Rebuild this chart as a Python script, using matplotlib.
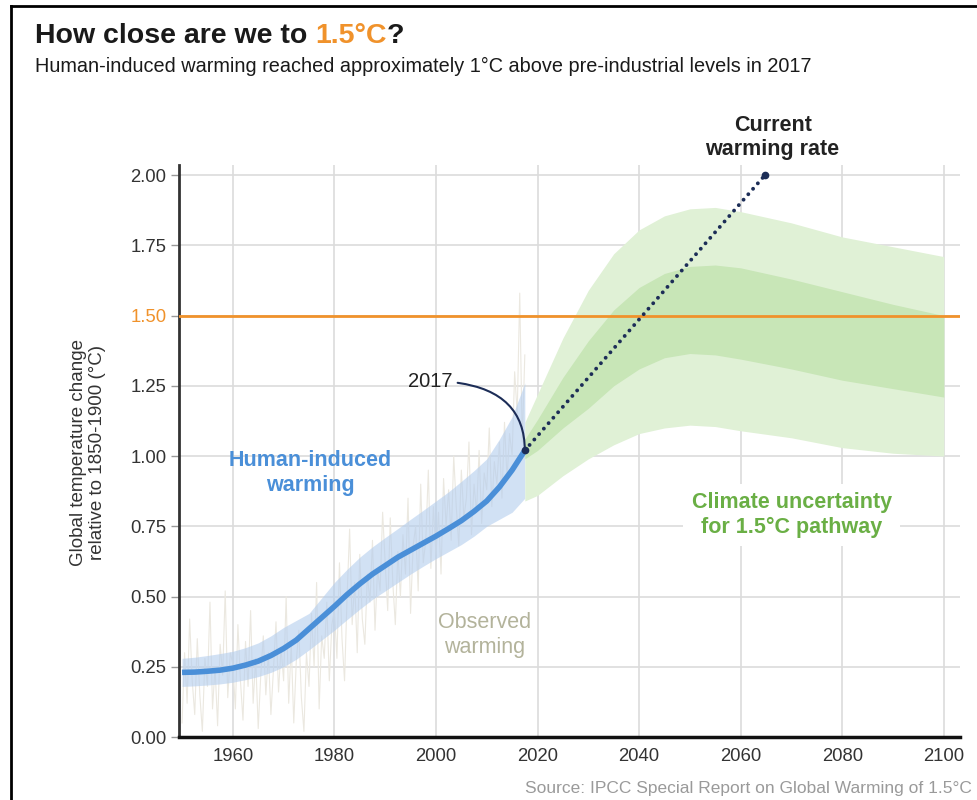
import numpy as np
import matplotlib
matplotlib.use("Agg")
import matplotlib.pyplot as plt
from matplotlib.lines import Line2D

plt.rcParams['font.family'] = ['Liberation Sans', 'DejaVu Sans']

# ---------------- data ----------------
human_years = [1950, 1952.5, 1955, 1957.5, 1960, 1962.5, 1965, 1967.5, 1970, 1972.5, 1975, 1977.5, 1980,
               1982.5, 1985, 1987.5, 1990, 1992.5, 1995, 1997.5, 2000, 2002.5, 2005, 2007.5, 2010,
               2012.5, 2015, 2017.5]
human_mid   = [0.23, 0.231, 0.234, 0.238, 0.245, 0.256, 0.27, 0.29, 0.315, 0.345, 0.385, 0.425, 0.465,
               0.507, 0.545, 0.58, 0.61, 0.64, 0.665, 0.69, 0.715, 0.742, 0.77, 0.803, 0.84,
               0.89, 0.95, 1.02]
human_low   = [0.18, 0.182, 0.185, 0.189, 0.195, 0.204, 0.215, 0.23, 0.25, 0.277, 0.31, 0.345, 0.38,
               0.418, 0.455, 0.49, 0.52, 0.55, 0.58, 0.608, 0.635, 0.66, 0.685, 0.715, 0.75,
               0.775, 0.80, 0.85]
human_high  = [0.28, 0.284, 0.29, 0.297, 0.305, 0.318, 0.335, 0.36, 0.39, 0.415, 0.44, 0.495, 0.55,
               0.597, 0.64, 0.677, 0.71, 0.742, 0.775, 0.807, 0.84, 0.873, 0.91, 0.948, 0.99,
               1.06, 1.14, 1.26]

obs_start = 1950
obs_values = [
    0.05, 0.30, 0.12, 0.42, 0.20, 0.08, 0.35, 0.15, 0.02, 0.28, 0.18, 0.48, 0.10, 0.25, 0.04, 0.33, 0.22, 0.52, 0.14, 0.30,
    0.26, 0.10, 0.40, 0.20, 0.06, 0.34, 0.18, 0.45, 0.12, 0.28, 0.03, 0.22, 0.36, 0.15, 0.30, 0.08, 0.24, 0.41, 0.16, 0.32,
    0.20, 0.50, 0.12, 0.33, 0.05, 0.27, 0.38, 0.14, 0.02, 0.30, 0.18, 0.44, 0.25, 0.55, 0.10, 0.36, 0.28, 0.48, 0.20, 0.40,
    0.45, 0.28, 0.62, 0.35, 0.20, 0.50, 0.74, 0.40, 0.55, 0.30, 0.65, 0.42, 0.33, 0.58, 0.48, 0.70, 0.38, 0.60, 0.52, 0.80,
    0.62, 0.45, 0.78, 0.55, 0.40, 0.66, 0.50, 0.72, 0.58, 0.85, 0.44, 0.68, 0.75, 0.52, 0.90, 0.62, 0.70, 0.95, 0.60, 0.82,
    0.65, 0.80, 0.58, 0.92, 0.75, 0.88, 0.70, 1.00, 0.82, 0.68, 0.95, 0.78, 0.85, 1.05, 0.72, 0.90, 0.80, 1.02, 0.76, 0.94,
    0.88, 1.10, 0.82, 0.98, 0.90, 1.05, 0.85, 1.12, 0.92, 1.08, 1.00, 1.30, 1.15, 1.58, 1.05, 1.36,
]
obs_years = obs_start + 0.5 * np.arange(len(obs_values))

path_years  = [2017.5, 2020, 2025, 2030, 2035, 2040, 2045, 2050, 2055, 2060, 2070, 2080, 2090, 2100]
outer_high  = [1.12, 1.22, 1.42, 1.59, 1.72, 1.805, 1.855, 1.88, 1.885, 1.87, 1.83, 1.78, 1.745, 1.71]
inner_high  = [1.06, 1.13, 1.28, 1.41, 1.52, 1.60, 1.65, 1.675, 1.68, 1.67, 1.63, 1.585, 1.54, 1.50]
inner_low   = [0.99, 1.02, 1.10, 1.17, 1.25, 1.31, 1.35, 1.365, 1.36, 1.345, 1.31, 1.27, 1.24, 1.21]
outer_low   = [0.84, 0.86, 0.93, 0.99, 1.04, 1.08, 1.10, 1.11, 1.105, 1.09, 1.065, 1.03, 1.01, 1.00]

rate_years  = [2017.5, 2064.8]
rate_values = [1.02, 2.00]

target = 1.5
x_ticks = [1960, 1980, 2000, 2020, 2040, 2060, 2080, 2100]
y_ticks = [0.0, 0.25, 0.5, 0.75, 1.0, 1.25, 1.5, 1.75, 2.0]

# ---------------- colours ----------------
ORANGE = '#f0922b'
NAVY = '#1c2d57'
BLUE = '#4a8fd8'
GREEN_TXT = '#6aaf45'
OBS_TXT = '#b3b39b'

fig = plt.figure(figsize=(9.78, 8), dpi=100)
ax = fig.add_axes([179/978, 1-737/800, 781/978, (737-165)/800])

ax.set_xlim(1949.4, 2103.2)
ax.set_ylim(0, 2.036)

# grid
for xt in x_ticks:
    ax.axvline(xt, color='#dcdcdc', lw=1.2, zorder=0)
for yt in y_ticks[1:]:
    ax.axhline(yt, color='#dcdcdc', lw=1.2, zorder=0)

# observed
ax.plot(obs_years, obs_values, color='#ebe8e0', lw=0.8, zorder=1)

# human band
ax.fill_between(human_years, human_low, human_high, color='#b3cdee', alpha=0.6, lw=0, zorder=2)

# pathway bands
ax.fill_between(path_years, outer_low, outer_high, color='#e0f1d6', lw=0, zorder=2)
ax.fill_between(path_years, inner_low, inner_high, color='#c8e6b7', lw=0, zorder=2)

ax.plot(human_years, human_mid, color=BLUE, lw=4, solid_capstyle='butt', solid_joinstyle='round', zorder=4)

# 1.5 line
ax.axhline(target, color=ORANGE, lw=2, zorder=3)

# current warming rate dotted line
ax.plot(rate_years, rate_values, color=NAVY, lw=2.8, linestyle=(0, (0.01, 1.85)),
        dash_capstyle='round', zorder=5)
ax.plot(rate_years, rate_values, 'o', color=NAVY, ms=4.5, zorder=6, clip_on=False)

# spines / ticks
for s in ['top', 'right']:
    ax.spines[s].set_visible(False)
ax.spines['left'].set_color('#333333')
ax.spines['left'].set_linewidth(2)
ax.spines['bottom'].set_color('#111111')
ax.spines['bottom'].set_linewidth(2.5)
ax.set_xticks(x_ticks)
ax.set_yticks(y_ticks)
ax.set_yticklabels([f'{v:.2f}' for v in y_ticks])
ax.tick_params(axis='x', length=0, pad=8, labelsize=13.3, labelcolor='#333333')
ax.tick_params(axis='y', length=6, width=1, color='#999999', pad=3, labelsize=13.3, labelcolor='#333333')
for lab, v in zip(ax.get_yticklabels(), y_ticks):
    if abs(v - target) < 1e-9:
        lab.set_color(ORANGE)

fig.text(88/978, 1-452/800, 'Global temperature change\nrelative to 1850-1900 (°C)', rotation=90,
         fontsize=13.5, color='#333333', linespacing=1.1, ha='center', va='center')

# labels
ax.text(2066.3, 2.135, 'Current\nwarming rate', ha='center', va='center', fontsize=15.5,
        fontweight='bold', color='#222222', linespacing=1.2, clip_on=False)
ax.text(1975.2, 0.94, 'Human-induced\nwarming', ha='center', va='center', fontsize=15.5,
        fontweight='bold', color=BLUE, linespacing=1.2, zorder=7)
ax.text(2009.5, 0.363, 'Observed\nwarming', ha='center', va='center', fontsize=15.5,
        color=OBS_TXT, linespacing=1.2, zorder=7)
ax.text(2070.1, 0.79, 'Climate uncertainty\nfor 1.5°C pathway', ha='center', va='center', fontsize=15.5,
        fontweight='bold', color=GREEN_TXT, linespacing=1.2, zorder=7,
        bbox=dict(facecolor='white', edgecolor='none', pad=6))
ax.annotate('2017', xy=(rate_years[0], rate_values[0]), xytext=(1998.8, 1.267),
            ha='center', va='center', fontsize=14.5, color='#222222', zorder=7,
            arrowprops=dict(arrowstyle='-', color=NAVY, lw=1.5, shrinkA=2, shrinkB=0,
                            connectionstyle='angle3,angleA=0,angleB=90'))

# title (multi-colour)
fig.canvas.draw()
r = fig.canvas.get_renderer()
x0 = 35/978
yt = 1-36/800
parts = [('How close are we to ', '#1a1a1a'), ('1.5°C', ORANGE), ('?', '#1a1a1a')]
for txt, col in parts:
    t = fig.text(x0, yt, txt, fontsize=20.5, fontweight='bold', color=col, ha='left', va='center')
    bb = t.get_window_extent(renderer=r)
    x0 += bb.width / fig.bbox.width

fig.text(35/978, 1-66/800, 'Human-induced warming reached approximately 1°C above pre-industrial levels in 2017',
         fontsize=14.3, color='#1a1a1a', ha='left', va='center')

fig.text(972/978, 1-788/800, 'Source: IPCC Special Report on Global Warming of 1.5°C',
         fontsize=12.5, color='#9a9a9a', ha='right', va='center')

# border lines
fig.add_artist(Line2D([11/978, 1], [1-6/800, 1-6/800], color='black', lw=2, transform=fig.transFigure))
fig.add_artist(Line2D([11/978, 11/978], [0, 1-6/800], color='black', lw=2, transform=fig.transFigure))

fig.savefig('out.png', dpi=100, facecolor='white')
